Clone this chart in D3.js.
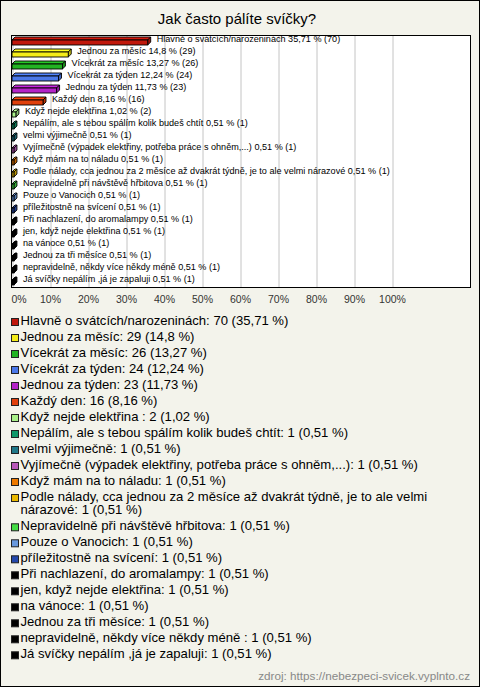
<!DOCTYPE html>
<html>
<head>
<meta charset="utf-8">
<script src="https://cdn.jsdelivr.net/npm/d3@7"></script>
<style>
  html, body { margin: 0; padding: 0; background: #f3f3eb; }
  svg { display: block; }
</style>
</head>
<body>
<svg id="chart" width="480" height="687"></svg>
<script>
const title = "Jak často pálíte svíčky?";
const source = "zdroj: https://nebezpeci-svicek.vyplnto.cz";
const categories = [
  "Hlavně o svátcích/narozeninách",
  "Jednou za měsíc",
  "Vícekrát za měsíc",
  "Vícekrát za týden",
  "Jednou za týden",
  "Každý den",
  "Když nejde elektřina ",
  "Nepálím, ale s tebou spálím kolik budeš chtít",
  "velmi výjimečně",
  "Vyjímečně (výpadek elektřiny, potřeba práce s ohněm,...)",
  "Když mám na to náladu",
  "Podle nálady, cca jednou za 2 měsíce až dvakrát týdně, je to ale velmi nárazové",
  "Nepravidelně při návštěvě hřbitova",
  "Pouze o Vanocich",
  "příležitostně na svícení",
  "Při nachlazení, do aromalampy",
  "jen, když nejde elektřina",
  "na vánoce",
  "Jednou za tři měsíce",
  "nepravidelně, někdy více někdy méně ",
  "Já svíčky nepálím ,já je zapaluji"
];
const counts = [70, 29, 26, 24, 23, 16, 2, 1, 1, 1, 1, 1, 1, 1, 1, 1, 1, 1, 1, 1, 1];
const percents = [35.71, 14.8, 13.27, 12.24, 11.73, 8.16, 1.02, 0.51, 0.51, 0.51, 0.51, 0.51, 0.51, 0.51, 0.51, 0.51, 0.51, 0.51, 0.51, 0.51, 0.51];
const colors = [
  "#c0180c", "#f4ec18", "#22b322", "#4a78e8", "#b424c8", "#e0400c",
  "#a8f088", "#10986a", "#207888", "#b858b8", "#ee7a00", "#e8b800",
  "#44dd44", "#6898dc", "#2448ac",
  "#000000", "#000000", "#000000", "#000000", "#000000", "#000000"
];
const tickValues = [0, 10, 20, 30, 40, 50, 60, 70, 80, 90, 100];

const fmt = p => String(p).replace(".", ",");

const svg = d3.select("#chart");
const W = 480, H = 687;
const FONT = "'Liberation Sans', Arial, sans-serif";

// background + outer border
svg.append("rect").attr("x", 0.5).attr("y", 0.5).attr("width", W - 1).attr("height", H - 1)
  .attr("fill", "#f3f3eb").attr("stroke", "#000").attr("stroke-width", 1);

// title
svg.append("text").attr("x", 237).attr("y", 20).attr("text-anchor", "middle")
  .attr("dominant-baseline", "middle")
  .style("font-family", FONT).style("font-size", "15px")
  .attr("fill", "#000").text(title);

// plot area
const plot = { left: 11.5, top: 35.5, right: 470.5, bottom: 287.5 };
svg.append("rect").attr("x", plot.left).attr("y", plot.top)
  .attr("width", plot.right - plot.left).attr("height", plot.bottom - plot.top)
  .attr("fill", "#fff");

const x = d3.scaleLinear().domain([0, 100]).range([12, 392]);
const y = d3.scaleBand().domain(categories).range([35, 287]).padding(0);

// gridlines
svg.append("g").attr("transform", `translate(0,${plot.bottom})`)
  .call(d3.axisBottom(x).tickValues(tickValues).tickSize(-(plot.bottom - plot.top)).tickFormat(""))
  .call(g => g.select(".domain").remove())
  .call(g => g.selectAll(".tick line").attr("stroke", "#c4c4c4").attr("stroke-width", 1)
    .attr("transform", "translate(0.5,0)"));

// bars (pseudo 3D)
const depth = 3;
const bars = svg.append("g").attr("stroke", "#000").attr("stroke-width", 0.9).attr("stroke-linejoin", "miter");
categories.forEach((c, i) => {
  const cy = y(c) + y.bandwidth() / 2;
  const x0 = x(0), x1 = x(percents[i]);
  const top = cy - 1, bot = cy + 4;
  const col = d3.color(colors[i]);
  const g = bars.append("g");
  g.append("path").attr("d", `M${x0},${top} L${x0 + depth},${top - depth} L${x1 + depth},${top - depth} L${x1},${top} Z`)
    .attr("fill", col.brighter(0.3).formatHex());
  g.append("path").attr("d", `M${x1},${top} L${x1 + depth},${top - depth} L${x1 + depth},${bot - depth} L${x1},${bot} Z`)
    .attr("fill", col.darker(0.6).formatHex());
  g.append("rect").attr("x", x0).attr("y", top).attr("width", Math.max(x1 - x0, 0)).attr("height", bot - top)
    .attr("fill", colors[i]);
  svg.append("text").attr("x", x1 + depth + 6).attr("y", cy - 1)
    .attr("dominant-baseline", "middle")
    .style("font-family", FONT).style("font-size", "9.1px")
    .attr("fill", "#000")
    .text(`${c} ${fmt(percents[i])} % (${counts[i]})`);
});

// plot border
svg.append("rect").attr("x", plot.left).attr("y", plot.top)
  .attr("width", plot.right - plot.left).attr("height", plot.bottom - plot.top)
  .attr("fill", "none").attr("stroke", "#000").attr("stroke-width", 1);

// x axis labels
svg.append("g").attr("transform", `translate(0,${plot.bottom})`)
  .call(d3.axisBottom(x).tickValues(tickValues).tickSize(0).tickPadding(8).tickFormat(d => d + "%"))
  .call(g => g.select(".domain").remove())
  .call(g => g.selectAll(".tick text")
    .style("font-family", FONT).style("font-size", "10.5px")
    .attr("fill", "#333"))
  .call(g => g.selectAll(".tick").filter(d => d === 0).select("text").attr("text-anchor", "start").attr("x", -1));

// legend
const legend = svg.append("g");
const legX = 11, textX = 20.5, maxW = 448;
let ly = 322;
const step = 16.0, lineStep = 13.3;
categories.forEach((c, i) => {
  const label = `${c}: ${counts[i]} (${fmt(percents[i])} %)`;
  legend.append("rect").attr("x", legX + 0.5).attr("y", ly - 3.5).attr("width", 7).attr("height", 7)
    .attr("fill", colors[i]).attr("stroke", "#222").attr("stroke-width", 1);
  const t = legend.append("text").attr("x", textX).attr("y", ly)
    .attr("dominant-baseline", "middle")
    .style("font-family", FONT).style("font-size", "13.1px")
    .attr("fill", "#000");
  const words = label.split(" ");
  let line = [];
  let tspan = t.append("tspan").attr("x", textX).attr("y", ly);
  let lines = 1;
  words.forEach(w => {
    line.push(w);
    tspan.text(line.join(" "));
    if (tspan.node().getComputedTextLength() > maxW && line.length > 1) {
      line.pop();
      tspan.text(line.join(" "));
      line = [w];
      lines++;
      tspan = t.append("tspan").attr("x", textX).attr("y", ly + (lines - 1) * lineStep).text(w);
    }
  });
  ly += step + (lines - 1) * lineStep;
});

// source
svg.append("text").attr("x", 470).attr("y", 677).attr("text-anchor", "end")
  .attr("dominant-baseline", "middle")
  .style("font-family", FONT).style("font-size", "11.7px")
  .attr("fill", "#888").text(source);
</script>
</body>
</html>
